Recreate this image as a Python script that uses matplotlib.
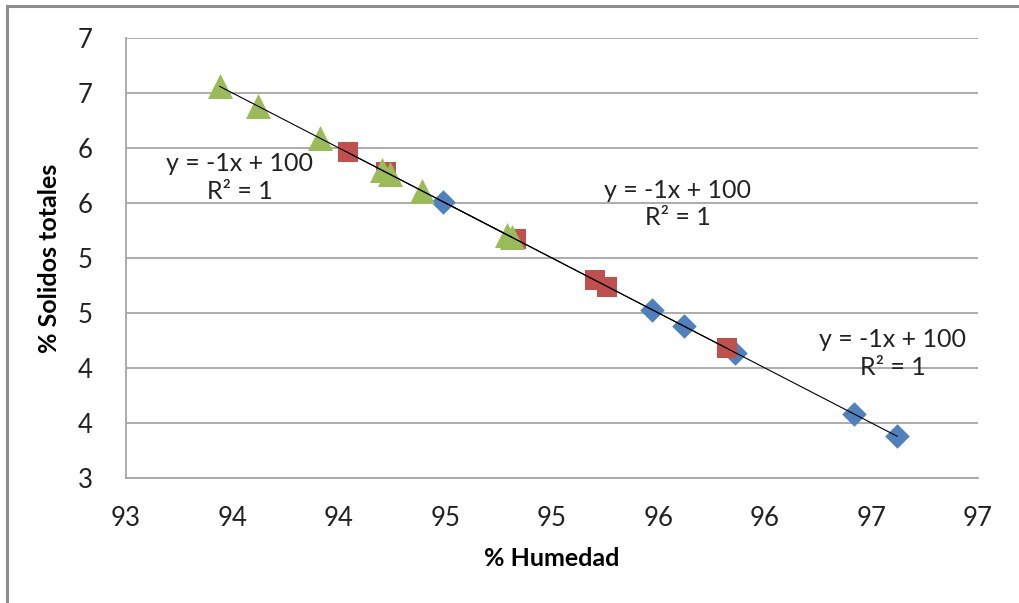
import matplotlib.pyplot as plt
import numpy as np
from matplotlib.patches import Rectangle

plt.rcParams['font.family'] = ['Lato', 'DejaVu Sans']

# % humedad vs % solidos totales, tres series
hum_azul = [94.49, 95.47, 95.62, 95.86, 96.42, 96.62]
sol_azul = [5.51, 4.53, 4.38, 4.14, 3.58, 3.38]

hum_rojo = [94.04, 94.22, 94.83, 95.20, 95.26, 95.82]
sol_rojo = [5.96, 5.78, 5.17, 4.80, 4.74, 4.18]

hum_verde = [93.44, 93.62, 93.91, 94.20, 94.24, 94.39, 94.79, 94.81]
sol_verde = [6.56, 6.38, 6.09, 5.80, 5.76, 5.61, 5.21, 5.19]

x_ticks = [93, 93.5, 94, 94.5, 95, 95.5, 96, 96.5, 97]
x_labels = ['93', '94', '94', '95', '95', '96', '96', '97', '97']
y_ticks = [3, 3.5, 4, 4.5, 5, 5.5, 6, 6.5, 7]
y_labels = ['3', '4', '4', '5', '5', '6', '6', '7', '7']

ecuaciones = ['y = -1x + 100\nR² = 1'] * 3
pos_ecuaciones = [(93.535, 5.73), (95.59, 5.49), (96.60, 4.135)]

fig = plt.figure(figsize=(10.19, 6.03), dpi=100)
ax = fig.add_axes([126 / 1019, 1 - 478 / 603, (978 - 126) / 1019, (478 - 38) / 603])

gris = '#a6a6a6'
ax.scatter(hum_azul, sol_azul, marker='D', s=12.5 ** 2, color='#4F81BD', zorder=3, linewidths=0)
ax.scatter(hum_rojo, sol_rojo, marker='s', s=15 ** 2, color='#C0504D', zorder=4, linewidths=0)
ax.scatter(hum_verde, sol_verde, marker='^', s=18 ** 2, color='#9BBB59', zorder=5, linewidths=0)

# lineas de tendencia (una por serie)
for hx, sy in [(hum_azul, sol_azul), (hum_rojo, sol_rojo), (hum_verde, sol_verde)]:
    m, b = np.polyfit(hx, sy, 1)
    xs = np.array([min(hx), max(hx)])
    ax.plot(xs, m * xs + b, color='black', lw=0.8, zorder=6)

for txt, (tx, ty) in zip(ecuaciones, pos_ecuaciones):
    ax.text(tx, ty, txt, ha='center', va='center', fontsize=18, color='#222222',
            linespacing=1.25, zorder=7)

ax.set_xlim(93, 97)
ax.set_ylim(3, 7)
ax.set_xticks(x_ticks)
ax.set_xticklabels(x_labels)
ax.set_yticks(y_ticks)
ax.set_yticklabels(y_labels)
ax.tick_params(length=0, labelsize=18.5, colors='#222222')
ax.tick_params(axis='x', pad=20)
ax.tick_params(axis='y', pad=24)
ax.grid(axis='y', color=gris, lw=1.3)
ax.set_axisbelow(True)
for s in ['top', 'right']:
    ax.spines[s].set_visible(False)
for s in ['left', 'bottom']:
    ax.spines[s].set_color(gris)
    ax.spines[s].set_linewidth(1.3)

ax.set_xlabel('% Humedad', fontsize=18, fontweight='bold', labelpad=12)
ax.set_ylabel('% Solidos totales', fontsize=18, fontweight='bold', labelpad=12)

# marco exterior del grafico
fig.patches.append(Rectangle((7 / 1019, -0.1), 1.1, 1 - 6 / 603 + 0.1,
                             transform=fig.transFigure, fill=False,
                             edgecolor='#8c8c8c', lw=2.2))

fig.savefig('out.png', dpi=100)
